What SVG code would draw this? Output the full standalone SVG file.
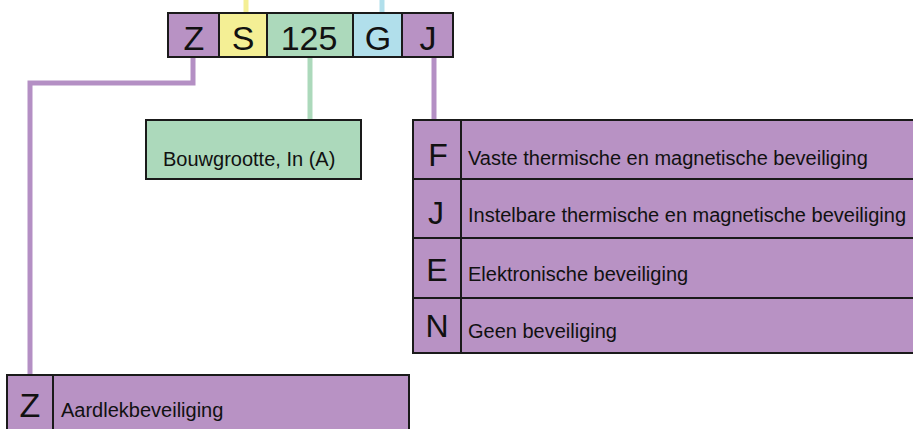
<svg xmlns="http://www.w3.org/2000/svg" width="913" height="429" viewBox="0 0 913 429">
<style>
.pu{fill:#b892c4}
.ye{fill:#f4ef95}
.gr{fill:#acd9bb}
.bl{fill:#b1dfeb}
.box{stroke:#1a1a1a;stroke-width:2}
.big{font-family:"Liberation Sans",Arial,sans-serif;font-size:34px;fill:#111;text-anchor:middle}
.let{font-family:"Liberation Sans",Arial,sans-serif;font-size:32px;fill:#111;text-anchor:middle}
.lbl{font-family:"Liberation Sans",Arial,sans-serif;font-size:20px;fill:#111}
.div{stroke:#1a1a1a;stroke-width:2}
.cp{stroke:#b48fc4;stroke-width:5;fill:none}
.cg{stroke:#acd9bb;stroke-width:5;fill:none}
.cy{stroke:#f4ef95;stroke-width:5;fill:none}
.cb{stroke:#b1dfeb;stroke-width:5;fill:none}
</style>
<g id="connectors">
<path class="cy" d="M246 0V13"/>
<path class="cb" d="M382 0V13"/>
<path class="cp" d="M193 57V83H30V376"/>
<path class="cg" d="M310 57V121"/>
<path class="cp" d="M434 57V121"/>
</g>
<g id="code">
<rect class="pu box" x="168" y="13" width="51" height="44"/>
<rect class="ye box" x="219" y="13" width="48" height="44"/>
<rect class="gr box" x="267" y="13" width="86" height="44"/>
<rect class="bl box" x="353" y="13" width="49" height="44"/>
<rect class="pu box" x="402" y="13" width="51" height="44"/>
<text class="big" x="194" y="50">Z</text>
<text class="big" x="243" y="50">S</text>
<text class="big" x="309" y="50">125</text>
<text class="big" x="378" y="50">G</text>
<text class="big" x="428" y="50">J</text>
</g>
<g id="size">
<rect class="gr box" x="146" y="120" width="215" height="59"/>
<text class="lbl" x="163" y="166">Bouwgrootte, In (A)</text>
</g>
<g id="protection">
<rect class="pu box" x="413" y="120" width="510" height="233"/>
<path class="div" d="M461 120V353M413 179H913M413 238H913M413 298H913"/>
<text class="let" x="438" y="166">F</text>
<text class="lbl" x="468" y="165">Vaste thermische en magnetische beveiliging</text>
<text class="let" x="436" y="224">J</text>
<text class="lbl" x="468" y="222">Instelbare thermische en magnetische beveiliging</text>
<text class="let" x="437" y="281">E</text>
<text class="lbl" x="468" y="281">Elektronische beveiliging</text>
<text class="let" x="437" y="337">N</text>
<text class="lbl" x="468" y="338">Geen beveiliging</text>
</g>
<g id="earth">
<rect class="pu box" x="7" y="375" width="402" height="70"/>
<path class="div" d="M53 375V429"/>
<text class="let" x="30" y="417" style="font-size:34px">Z</text>
<text class="lbl" x="61" y="417">Aardlekbeveiliging</text>
</g>
</svg>
